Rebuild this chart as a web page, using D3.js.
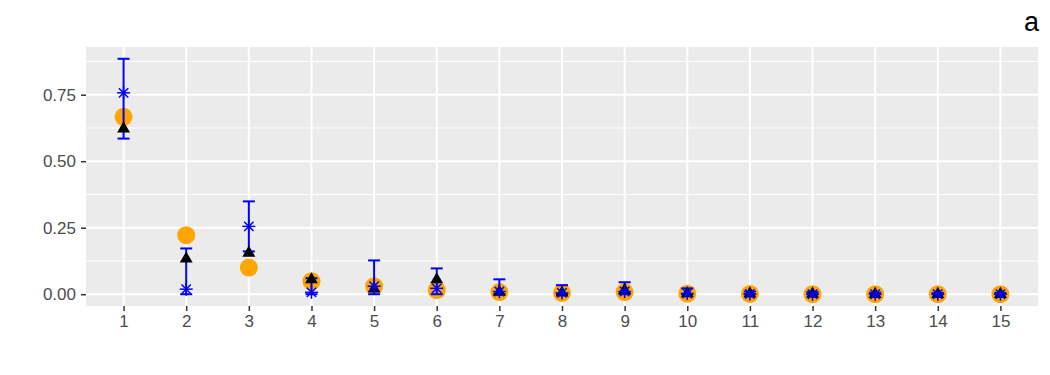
<!DOCTYPE html>
<html><head><meta charset="utf-8">
<script src="https://cdn.jsdelivr.net/npm/d3@7"></script>
<style>body{margin:0;background:#fff;} svg{display:block;font-family:"Liberation Sans",Arial,sans-serif;}</style>
</head><body>
<svg id="c" width="1050" height="375"></svg>
<script>
const categories = ["1","2","3","4","5","6","7","8","9","10","11","12","13","14","15"];
const orangeValues = [0.667,0.222,0.100,0.049,0.030,0.015,0.008,0.005,0.008,0.002,0.001,0.000,0.000,0.000,0.000];
const triangleValues = [0.622,0.133,0.155,0.055,0.020,0.055,0.008,0.005,0.015,0.003,0.002,0.001,0.000,0.000,0.000];
const starValues = [0.757,0.019,0.255,0.007,0.030,0.022,0.010,0.005,0.010,0.003,0.001,0.000,0.000,0.000,0.000];
const errLow = [0.585,0.000,0.161,0.000,0.000,0.000,0.000,0.000,0.000,0.000,0.000,0.000,0.000,0.000,0.000];
const errHigh = [0.885,0.172,0.349,0.060,0.127,0.097,0.056,0.034,0.045,0.022,0.010,0.008,0.006,0.005,0.005];
const yTicks = [0, 0.25, 0.5, 0.75];
const yMinor = [0.125, 0.375, 0.625, 0.875];
const tagLabel = "a";

const svg = d3.select("#c");
const L = 86, R = 1038, T = 47, B = 306;
const x = d3.scalePoint().domain(categories).range([L, R]).padding(0.6);
const y = d3.scaleLinear().domain([-0.0443, 0.9293]).range([B, T]);

svg.append("rect").attr("x", L).attr("y", T).attr("width", R - L).attr("height", B - T).attr("fill", "#EBEBEB");
const g = svg.append("g");
g.selectAll(".ymin").data(yMinor).join("line")
  .attr("x1", L).attr("x2", R).attr("y1", d => y(d)).attr("y2", d => y(d))
  .attr("stroke", "#fff").attr("stroke-width", 1);
g.selectAll(".ymaj").data(yTicks).join("line")
  .attr("x1", L).attr("x2", R).attr("y1", d => y(d)).attr("y2", d => y(d))
  .attr("stroke", "#fff").attr("stroke-width", 2);
g.selectAll(".xmaj").data(categories).join("line")
  .attr("x1", d => x(d)).attr("x2", d => x(d)).attr("y1", T).attr("y2", B)
  .attr("stroke", "#fff").attr("stroke-width", 2);

// axes
const yAxis = d3.axisLeft(y).tickValues(yTicks).tickFormat(d3.format(".2f")).tickSize(5).tickPadding(5);
const ya = svg.append("g").attr("transform", `translate(${L},0)`).call(yAxis);
ya.select(".domain").remove();
ya.selectAll("line").attr("stroke", "#333").attr("stroke-width", 1.5);
ya.selectAll("text").attr("fill", "#4D4D4D").style("font-size", "17px");
const xAxis = d3.axisBottom(x).tickSize(5).tickPadding(4);
const xa = svg.append("g").attr("transform", `translate(0,${B})`).call(xAxis);
xa.select(".domain").remove();
xa.selectAll("line").attr("stroke", "#333").attr("stroke-width", 1.5);
xa.selectAll("text").attr("fill", "#4D4D4D").style("font-size", "17px");

const data = categories.map((c, i) => ({c, o: orangeValues[i], t: triangleValues[i], s: starValues[i], lo: errLow[i], hi: errHigh[i]}));

// orange circles
g.selectAll(".circ").data(data).join("circle")
  .attr("cx", d => x(d.c)).attr("cy", d => y(d.o)).attr("r", 9).attr("fill", "#FFA500");

// error bars
const cap = 6;
const eb = g.selectAll(".eb").data(data).join("g").attr("stroke", "#0000FF").attr("stroke-width", 2).attr("fill", "none");
eb.append("line").attr("x1", d => x(d.c)).attr("x2", d => x(d.c)).attr("y1", d => y(d.lo)).attr("y2", d => y(d.hi));
eb.append("line").attr("x1", d => x(d.c) - cap).attr("x2", d => x(d.c) + cap).attr("y1", d => y(d.lo)).attr("y2", d => y(d.lo));
eb.append("line").attr("x1", d => x(d.c) - cap).attr("x2", d => x(d.c) + cap).attr("y1", d => y(d.hi)).attr("y2", d => y(d.hi));

// triangles
const tri = d3.symbol().type(d3.symbolTriangle).size(72);
g.selectAll(".tri").data(data).join("path")
  .attr("d", tri).attr("transform", d => `translate(${x(d.c)},${y(d.t)})`).attr("fill", "#000");

// asterisks
const a = 6.5;
const st = g.selectAll(".st").data(data).join("g")
  .attr("transform", d => `translate(${x(d.c)},${y(d.s)})`).attr("stroke", "#0000FF").attr("stroke-width", 1.5);
st.append("line").attr("x1", -a).attr("x2", a).attr("y1", 0).attr("y2", 0);
st.append("line").attr("x1", 0).attr("x2", 0).attr("y1", -a).attr("y2", a);
st.append("line").attr("x1", -a*0.72).attr("x2", a*0.72).attr("y1", -a*0.72).attr("y2", a*0.72);
st.append("line").attr("x1", -a*0.72).attr("x2", a*0.72).attr("y1", a*0.72).attr("y2", -a*0.72);

svg.append("text").attr("x", 1039).attr("y", 31).attr("text-anchor", "end")
  .style("font-size", "27px").attr("fill", "#000").text(tagLabel);
</script>
</body></html>
